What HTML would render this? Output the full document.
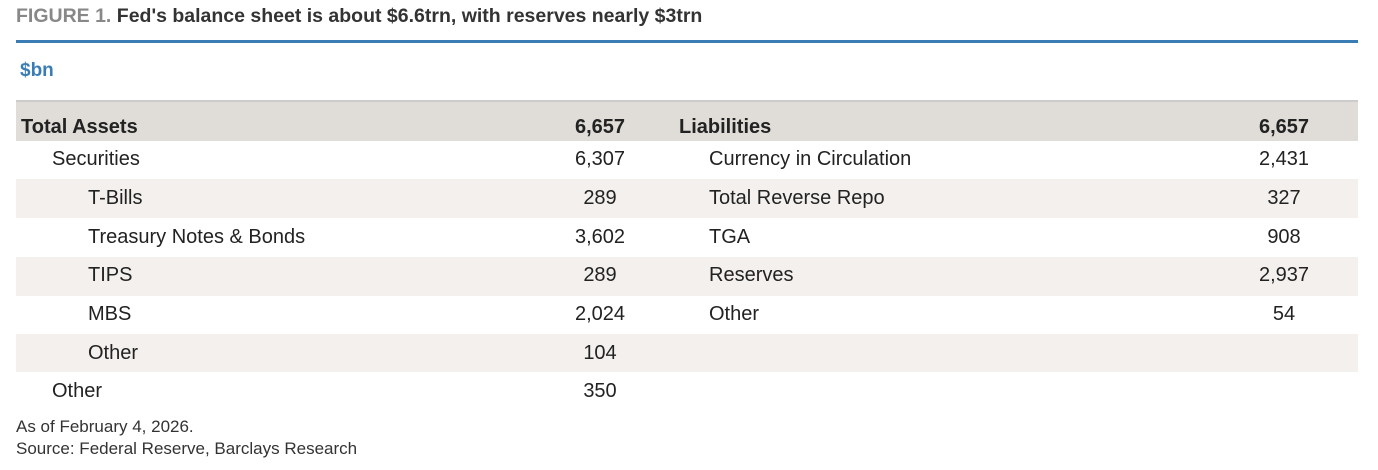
<!DOCTYPE html>
<html><head><style>
body{margin:0;width:1378px;height:470px;background:#fff;font-family:"Liberation Sans",sans-serif;color:#222;position:relative;overflow:hidden}
.a{position:absolute;white-space:nowrap}
.t{font-size:19.5px;font-weight:bold;left:16px;top:5px;color:#333}
.row{position:absolute;left:16px;width:1342px;height:39px}
.c{position:absolute;font-size:20px;line-height:39px;white-space:nowrap;margin-top:1px}
.n1{left:540px;width:120px;text-align:center}
.n2{left:1224px;width:120px;text-align:center}
.b{font-weight:bold}
</style></head><body>
<div class="a t"><span style="color:#888">FIGURE 1.</span> Fed's balance sheet is about $6.6trn, with reserves nearly $3trn</div>
<div class="a" style="left:16px;top:40px;width:1342px;height:3px;background:#3a7db5"></div>
<div class="a" style="left:20px;top:60px;font-size:19px;font-weight:bold;color:#3a7db5">$bn</div>
<div class="a" style="left:16px;top:100px;width:1342px;height:2px;background:#ccc"></div>
<div class="row" style="top:102px;background:#e0dcd8"></div>
<div class="row" style="top:179px;background:#f3f0ed"></div>
<div class="row" style="top:257px;background:#f3f0ed"></div>
<div class="row" style="top:334px;background:#f3f0ed;height:38px"></div>

<div class="c b" style="left:21px;top:107px">Total Assets</div><div class="c b n1" style="top:107px">6,657</div>
<div class="c b" style="left:679px;top:107px">Liabilities</div><div class="c b n2" style="top:107px">6,657</div>

<div class="c" style="left:52px;top:139px">Securities</div><div class="c n1" style="top:139px">6,307</div>
<div class="c" style="left:709px;top:139px">Currency in Circulation</div><div class="c n2" style="top:139px">2,431</div>

<div class="c" style="left:88px;top:178px">T-Bills</div><div class="c n1" style="top:178px">289</div>
<div class="c" style="left:709px;top:178px">Total Reverse Repo</div><div class="c n2" style="top:178px">327</div>

<div class="c" style="left:88px;top:217px">Treasury Notes &amp; Bonds</div><div class="c n1" style="top:217px">3,602</div>
<div class="c" style="left:709px;top:217px">TGA</div><div class="c n2" style="top:217px">908</div>

<div class="c" style="left:88px;top:255px">TIPS</div><div class="c n1" style="top:255px">289</div>
<div class="c" style="left:709px;top:255px">Reserves</div><div class="c n2" style="top:255px">2,937</div>

<div class="c" style="left:88px;top:294px">MBS</div><div class="c n1" style="top:294px">2,024</div>
<div class="c" style="left:709px;top:294px">Other</div><div class="c n2" style="top:294px">54</div>

<div class="c" style="left:88px;top:333px">Other</div><div class="c n1" style="top:333px">104</div>
<div class="c" style="left:52px;top:371px">Other</div><div class="c n1" style="top:371px">350</div>

<div class="a" style="left:16px;top:417px;font-size:17px;color:#333">As of February 4, 2026.</div>
<div class="a" style="left:16px;top:439px;font-size:17px;color:#333">Source: Federal Reserve, Barclays Research</div>
</body></html>
